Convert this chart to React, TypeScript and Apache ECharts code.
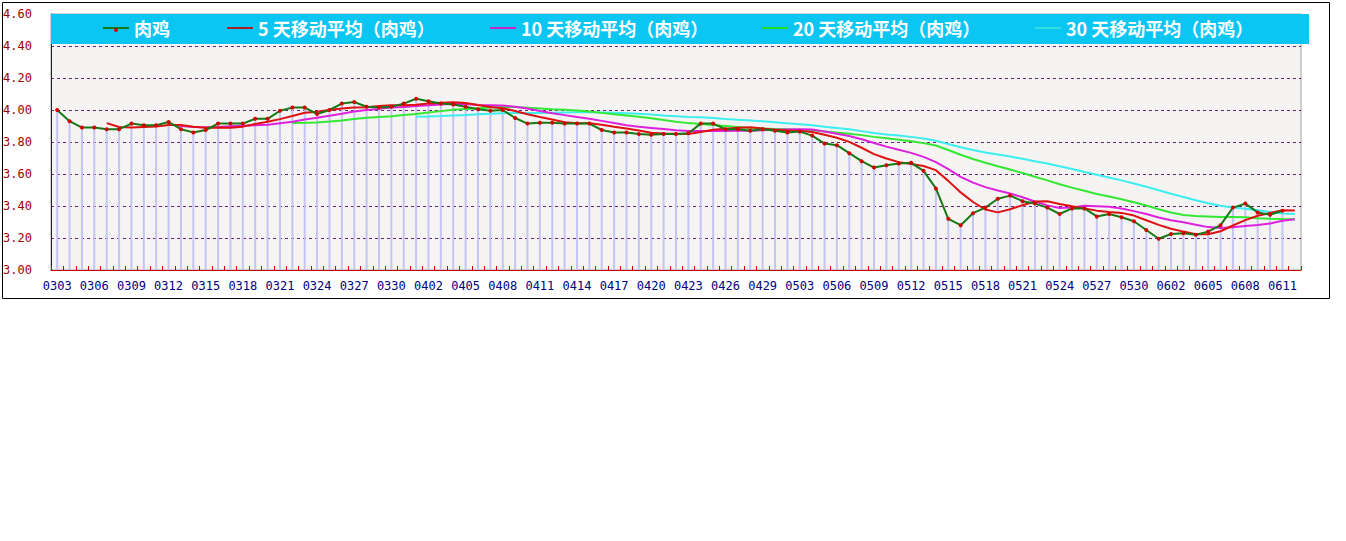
import { useEffect, useRef } from 'react';
import * as echarts from 'echarts';

// 交易日（0501 休市）
const dates = [
  '0303', '0304', '0305', '0306', '0307', '0308', '0309', '0310', '0311', '0312',
  '0313', '0314', '0315', '0316', '0317', '0318', '0319', '0320', '0321', '0322',
  '0323', '0324', '0325', '0326', '0327', '0328', '0329', '0330', '0331', '0401',
  '0402', '0403', '0404', '0405', '0406', '0407', '0408', '0409', '0410', '0411',
  '0412', '0413', '0414', '0415', '0416', '0417', '0418', '0419', '0420', '0421',
  '0422', '0423', '0424', '0425', '0426', '0427', '0428', '0429', '0430', '0502',
  '0503', '0504', '0505', '0506', '0507', '0508', '0509', '0510', '0511', '0512',
  '0513', '0514', '0515', '0516', '0517', '0518', '0519', '0520', '0521', '0522',
  '0523', '0524', '0525', '0526', '0527', '0528', '0529', '0530', '0531', '0601',
  '0602', '0603', '0604', '0605', '0606', '0607', '0608', '0609', '0610', '0611',
  '0612',
];

// 肉鸡价格
const broiler = [
  4.00, 3.93, 3.89, 3.89, 3.88, 3.88, 3.915, 3.905, 3.905, 3.925,
  3.88, 3.86, 3.875, 3.915, 3.915, 3.915, 3.945, 3.945, 3.995, 4.015,
  4.015, 3.975, 4.00, 4.04, 4.05, 4.02, 4.015, 4.02, 4.04, 4.07,
  4.055, 4.04, 4.035, 4.02, 4.005, 3.995, 4.00, 3.95, 3.915, 3.92,
  3.92, 3.915, 3.915, 3.915, 3.875, 3.86, 3.86, 3.85, 3.845, 3.85,
  3.85, 3.855, 3.915, 3.915, 3.88, 3.88, 3.87, 3.88, 3.87, 3.86,
  3.865, 3.84, 3.79, 3.78, 3.73, 3.68, 3.64, 3.655, 3.665, 3.67,
  3.62, 3.51, 3.32, 3.28, 3.355, 3.39, 3.445, 3.465, 3.43, 3.415,
  3.39, 3.35, 3.385, 3.385, 3.335, 3.35, 3.33, 3.305, 3.25, 3.195,
  3.225, 3.23, 3.22, 3.24, 3.28, 3.39, 3.415, 3.36, 3.345, 3.37,
];

// 5 天移动平均，从第 5 个交易日开始
const ma5 = [
  3.918, 3.894, 3.891, 3.894, 3.897, 3.906, 3.906, 3.895, 3.889, 3.891,
  3.889, 3.896, 3.913, 3.927, 3.943, 3.963, 3.983, 3.989, 4.000, 4.009,
  4.016, 4.017, 4.025, 4.029, 4.029, 4.033, 4.040, 4.045, 4.048, 4.044,
  4.031, 4.019, 4.011, 3.994, 3.973, 3.956, 3.941, 3.924, 3.917, 3.917,
  3.908, 3.896, 3.885, 3.872, 3.858, 3.853, 3.851, 3.850, 3.863, 3.877,
  3.883, 3.889, 3.892, 3.885, 3.876, 3.872, 3.869, 3.863, 3.845, 3.827,
  3.801, 3.764, 3.724, 3.697, 3.674, 3.662, 3.650, 3.624, 3.557, 3.485,
  3.425, 3.378, 3.360, 3.380, 3.405, 3.428, 3.430, 3.413, 3.398, 3.385,
  3.371, 3.362, 3.357, 3.340, 3.311, 3.282, 3.258, 3.240, 3.224, 3.224,
  3.242, 3.278, 3.312, 3.339, 3.356, 3.373, 3.372,
];

// 10 天移动平均
const ma10 = [
  3.912, 3.900, 3.893, 3.892, 3.894, 3.898, 3.901, 3.904, 3.908, 3.917,
  3.926, 3.940, 3.951, 3.964, 3.976, 3.990, 4.000, 4.007, 4.015, 4.019,
  4.025, 4.029, 4.035, 4.039, 4.037, 4.032, 4.030, 4.028, 4.021, 4.009,
  3.994, 3.980, 3.968, 3.956, 3.945, 3.932, 3.919, 3.905, 3.895, 3.888,
  3.881, 3.874, 3.868, 3.868, 3.868, 3.868, 3.870, 3.871, 3.874, 3.877,
  3.878, 3.879, 3.878, 3.865, 3.852, 3.837, 3.817, 3.794, 3.771, 3.751,
  3.732, 3.707, 3.674, 3.630, 3.582, 3.546, 3.518, 3.497, 3.478, 3.455,
  3.428, 3.404, 3.387, 3.391, 3.401, 3.399, 3.395, 3.384, 3.368, 3.350,
  3.328, 3.311, 3.299, 3.283, 3.268, 3.263, 3.267, 3.275, 3.281, 3.290,
  3.308, 3.317,
];

// 20 天移动平均
const ma20 = [
  3.919, 3.920, 3.922, 3.928, 3.935, 3.944, 3.951, 3.956, 3.961, 3.968,
  3.975, 3.984, 3.993, 4.001, 4.006, 4.011, 4.015, 4.018, 4.018, 4.014,
  4.009, 4.004, 4.001, 3.997, 3.991, 3.982, 3.974, 3.966, 3.958, 3.948,
  3.937, 3.927, 3.918, 3.912, 3.906, 3.900, 3.894, 3.888, 3.884, 3.882,
  3.879, 3.876, 3.873, 3.866, 3.860, 3.852, 3.843, 3.832, 3.823, 3.814,
  3.805, 3.793, 3.778, 3.750, 3.720, 3.694, 3.670, 3.648, 3.628, 3.606,
  3.583, 3.560, 3.536, 3.515, 3.495, 3.475, 3.459, 3.442, 3.424, 3.403,
  3.380, 3.359, 3.344, 3.337, 3.335, 3.331, 3.331, 3.329, 3.324, 3.320,
  3.318, 3.317,
];

// 30 天移动平均
const ma30 = [
  3.958, 3.960, 3.962, 3.966, 3.969, 3.973, 3.977, 3.980, 3.981, 3.982,
  3.981, 3.983, 3.985, 3.986, 3.986, 3.985, 3.983, 3.980, 3.977, 3.972,
  3.966, 3.961, 3.957, 3.954, 3.950, 3.944, 3.939, 3.935, 3.930, 3.924,
  3.917, 3.911, 3.904, 3.896, 3.888, 3.879, 3.868, 3.856, 3.847, 3.840,
  3.832, 3.822, 3.808, 3.788, 3.767, 3.750, 3.735, 3.722, 3.709, 3.695,
  3.680, 3.665, 3.648, 3.631, 3.613, 3.595, 3.578, 3.560, 3.541, 3.520,
  3.498, 3.477, 3.456, 3.436, 3.417, 3.401, 3.391, 3.383, 3.373, 3.363,
  3.353, 3.350,
];

const seriesNames = [
  '肉鸡',
  '5 天移动平均（肉鸡）',
  '10 天移动平均（肉鸡）',
  '20 天移动平均（肉鸡）',
  '30 天移动平均（肉鸡）',
];

const legendLeft = [103, 227, 490, 762, 1035];
const legendIconColor = ['#157a15', '#a82020', '#cc22cc', '#22dd22', '#33e0e0'];

const monoFont = '"DejaVu Sans Mono", monospace';

export default function App() {
  const chartRef = useRef<HTMLDivElement>(null);

  useEffect(() => {
    if (!chartRef.current) return;
    document.body.style.margin = '0';

    const chart = echarts.init(chartRef.current, undefined, { renderer: 'svg' });

    // 移动平均前面几天没有值
    const lead = (values: number[]) => [
      ...new Array(dates.length - values.length).fill('-'),
      ...values,
    ];

    const maLine = (name: string, values: number[], color: string) => ({
      name,
      type: 'line',
      data: lead(values),
      symbol: 'none',
      lineStyle: { color, width: 2 },
      itemStyle: { color },
      z: 3,
    });

    const option: echarts.EChartsOption = {
      animation: false,
      grid: {
        left: 51,
        top: 14,
        width: 1250,
        height: 256,
        show: true,
        backgroundColor: '#f6f3f3',
        borderColor: '#a0a0a0',
        borderWidth: 1,
      },
      legend: seriesNames.map((name, i) => ({
        left: legendLeft[i],
        top: 19,
        padding: 0,
        itemWidth: 26,
        itemHeight: 2,
        selectedMode: false,
        z: 10,
        data: [{ name, icon: 'rect', itemStyle: { color: legendIconColor[i] } }],
        textStyle: {
          color: '#ffffff',
          fontSize: 18,
          fontWeight: 'bold',
          fontFamily: '"Noto Sans CJK SC", sans-serif',
        },
      })),
      graphic: [
        {
          type: 'rect',
          z: 8,
          silent: true,
          shape: { x: 51, y: 14, width: 1258, height: 30 },
          style: { fill: '#0bc5f3' },
        },
        {
          type: 'circle',
          z: 12,
          silent: true,
          shape: { cx: 116, cy: 30, r: 2 },
          style: { fill: '#d40000' },
        },
        {
          type: 'rect',
          z: 8,
          silent: true,
          shape: { x: 2.5, y: 2.5, width: 1327, height: 296 },
          style: { fill: 'none', stroke: '#000000', lineWidth: 1 },
        },
      ],
      xAxis: {
        type: 'category',
        data: dates,
        axisLine: { lineStyle: { color: '#cc0000', width: 1 } },
        axisTick: {
          show: true,
          inside: true,
          length: 4,
          interval: 0,
          lineStyle: { color: '#cc0000' },
        },
        axisLabel: {
          interval: 2,
          color: '#000080',
          fontSize: 12,
          fontFamily: monoFont,
          margin: 10,
        },
      },
      yAxis: {
        type: 'value',
        min: 3,
        max: 4.6,
        interval: 0.2,
        axisLine: { show: true, lineStyle: { color: '#222222' } },
        axisTick: { show: false },
        axisLabel: {
          formatter: (v: number) => v.toFixed(2),
          color: '#a00000',
          fontSize: 12,
          fontFamily: monoFont,
          margin: 19,
        },
        splitLine: {
          lineStyle: { color: '#6a1f7a', type: [3, 3], width: 1 },
        },
      },
      series: [
        {
          name: 'drop',
          type: 'bar',
          data: broiler,
          barWidth: 2,
          silent: true,
          itemStyle: { color: '#c4c4f4' },
          z: 1,
        },
        maLine(seriesNames[4], ma30, '#3ceeee'),
        maLine(seriesNames[3], ma20, '#33e833'),
        maLine(seriesNames[2], ma10, '#dd22dd'),
        maLine(seriesNames[1], ma5, '#dd1111'),
        {
          name: seriesNames[0],
          type: 'line',
          data: broiler,
          symbol: 'circle',
          symbolSize: 4,
          itemStyle: { color: '#d40000' },
          lineStyle: { color: '#157a15', width: 2 },
          z: 4,
        },
      ],
    };

    chart.setOption(option);

    return () => {
      chart.dispose();
    };
  }, []);

  return <div ref={chartRef} style={{ width: 1346, height: 541 }} />;
}
